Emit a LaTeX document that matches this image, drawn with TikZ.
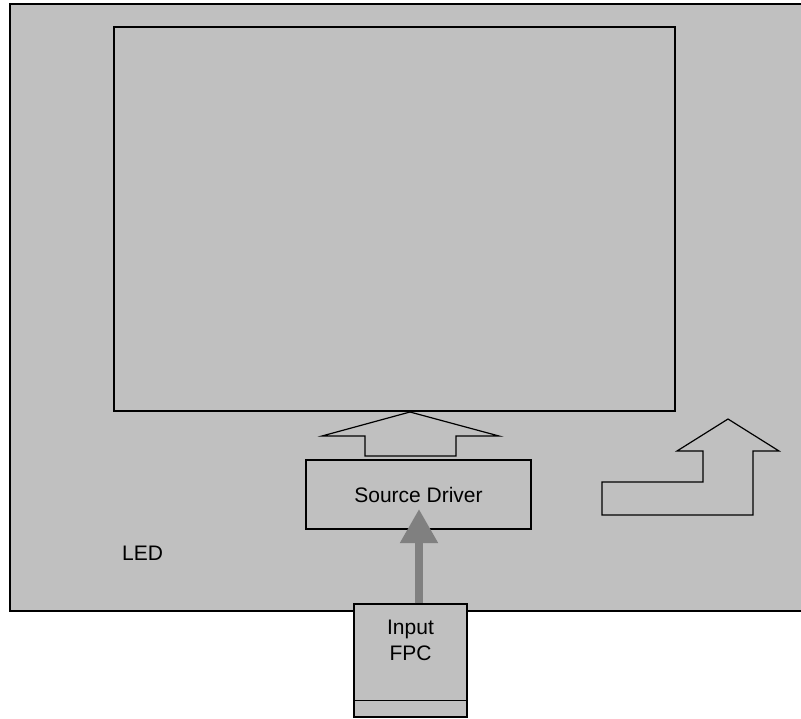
\documentclass[tikz,border=0pt]{standalone}
\usepackage{fontspec}
\setmainfont{Liberation Sans}
\usetikzlibrary{arrows.meta}
\definecolor{panelgray}{HTML}{C0C0C0}
\definecolor{arrowgray}{HTML}{808080}
\begin{document}
\begin{tikzpicture}[x=1pt,y=-1pt,
  font=\fontsize{21}{26}\selectfont,
  box/.style={draw=black, line width=1.1pt, fill=panelgray, inner sep=0pt},
  outline/.style={draw=black, line width=1.2pt, line join=miter},
  label/.style={inner sep=0pt, align=center, text=black},
  feed/.style={draw=arrowgray, line width=8pt, -{Triangle[length=34pt,width=36pt]}, arrowgray}
]
\useasboundingbox (0,0) rectangle (801,718);
\fill[white] (0,0) rectangle (801,718);
% LED panel
\node[fill=panelgray, inner sep=0pt, minimum width=791pt, minimum height=607pt] (panel) at (405.5,307.5) {};
\draw[line width=1.6pt] (panel.north east) -- (panel.north west) -- (panel.south west) -- (panel.south east);
% display area
\node[box, minimum width=561pt, minimum height=384pt] (screen) at (394.5,219) {};
% source driver
\node[box, minimum width=225pt, minimum height=69pt] (driver) at (418.5,494.5) {};
\node[label] (drivertext) at (driver.center) {Source Driver};
% input FPC
\node[box, minimum width=113pt, minimum height=113pt] (fpc) at (410.5,660.5) {};
\draw[line width=1.1pt] ([yshift=17pt]fpc.south west) -- ([yshift=17pt]fpc.south east);
\node[label] (fpctext) at (410.5,640) {Input\\FPC};
% LED label
\node[label] (led) at (142.5,553.5) {LED};
% data arrow from source driver to screen
\draw[outline] (410,412) -- (499,436) -- (456,436) -- (456,456) -- (365,456) -- (365,436) -- (322,436) -- cycle;
% bent arrow
\draw[outline] (728,419) -- (779,451) -- (753,451) -- (753,515) -- (602,515) -- (602,482) -- (703,482) -- (703,451) -- (677,451) -- cycle;
% gray feed arrow
\coordinate (feedstart) at ([xshift=8.5pt]fpc.north);
\coordinate (feedtip) at (419,509);
\draw[feed] (feedstart) -- (feedtip);
\end{tikzpicture}
\end{document}
